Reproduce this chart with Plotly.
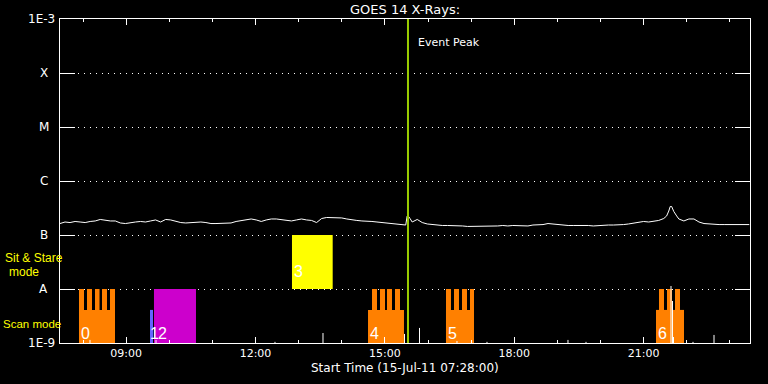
import plotly.graph_objects as go
import numpy as np

# ---------------- data ----------------
start_hour = 7 + 28 / 60.0          # 07:28
end_hour = 23 + 28 / 60.0           # 23:28

# GOES 14 long channel flux (minutes after 07:28, flux in 1e-7 W/m^2)
goes_minutes = [0, 7, 14, 21, 28, 35, 42, 49, 56, 63, 70, 77, 84, 91, 98, 105, 112, 119, 126, 133,
                140, 147, 154, 161, 168, 175, 182, 189, 196, 203, 210, 217, 224, 231, 238, 245, 252,
                259, 266, 273, 280, 287, 294, 301, 308, 315, 322, 329, 336, 343, 350, 357, 364, 371,
                378, 385, 392, 399, 406, 413, 420, 427, 434, 441, 448, 455, 462, 469, 476, 481, 483,
                485, 487, 490, 497, 504, 511, 518, 525, 532, 539, 546, 553, 560, 567, 574, 581, 588,
                595, 602, 609, 616, 623, 630, 637, 644, 651, 658, 665, 672, 679, 686, 693, 700, 707,
                714, 721, 728, 735, 742, 749, 756, 763, 770, 777, 784, 791, 798, 805, 812, 819, 826,
                833, 840, 844, 847, 849, 851, 854, 858, 861, 868, 875, 882, 889, 896, 903, 910, 917,
                924, 931, 938, 945, 952, 959]
goes_flux_e7 = [1.63, 1.74, 1.70, 1.78, 1.74, 1.70, 1.78, 1.82, 1.94, 1.86, 1.82, 1.82, 1.67, 1.63,
                1.70, 1.74, 1.78, 1.74, 1.82, 1.90, 1.74, 1.94, 1.90, 1.78, 1.70, 1.67, 1.70, 1.70,
                1.74, 1.70, 1.63, 1.63, 1.63, 1.63, 1.67, 1.78, 1.86, 1.94, 1.98, 1.90, 1.78, 1.90,
                1.98, 1.98, 1.94, 1.90, 1.82, 1.90, 1.98, 1.90, 1.86, 1.70, 2.02, 2.11, 2.11, 2.07,
                2.07, 1.98, 1.90, 1.86, 1.82, 1.82, 1.78, 1.74, 1.70, 1.67, 1.60, 1.56, 1.53, 1.53,
                2.25, 2.20, 2.02, 1.74, 1.94, 1.70, 1.60, 1.56, 1.53, 1.50, 1.50, 1.50, 1.47, 1.47,
                1.44, 1.44, 1.47, 1.47, 1.47, 1.44, 1.47, 1.50, 1.47, 1.50, 1.50, 1.47, 1.47, 1.53,
                1.53, 1.56, 1.63, 1.60, 1.53, 1.53, 1.50, 1.50, 1.50, 1.53, 1.50, 1.47, 1.50, 1.50,
                1.53, 1.53, 1.53, 1.56, 1.60, 1.67, 1.70, 1.78, 1.74, 1.78, 1.86, 2.02, 2.25, 2.78,
                3.37, 3.37, 2.72, 2.25, 1.98, 1.82, 1.98, 1.98, 1.74, 1.63, 1.60, 1.56, 1.56, 1.56,
                1.56, 1.60, 1.56, 1.60, 1.56]

# small spikes of the low channel (hour, peak flux)
spike_hours = [8.162, 9.693, 12.452, 13.565, 15.455, 15.803, 16.672, 17.368, 19.246, 19.664,
               21.635, 21.670, 21.693, 22.145, 22.632]
spike_peaks = [1.14e-9, 1.14e-9, 1.05e-9, 1.53e-9, 1.47e-9, 1.90e-9, 1.09e-9, 1.05e-9, 1.14e-9,
               1.05e-9, 1.137e-8, 6.0e-9, 1.29e-9, 1.05e-9, 1.41e-9]

# scan-mode observations (orange): full block + raster teeth
scan_labels = ["0", "4", "5", "6"]
scan_start = [7.907, 14.609, 16.417, 21.287]
scan_end = [8.742, 15.443, 17.067, 21.936]
scan_teeth = [
    [(7.907, 8.023), (8.093, 8.209), (8.278, 8.383), (8.441, 8.557), (8.626, 8.742)],
    [(14.702, 14.817), (14.887, 15.003), (15.049, 15.165), (15.235, 15.351)],
    [(16.417, 16.533), (16.603, 16.719), (16.788, 16.904), (16.974, 17.067)],
    [(21.357, 21.472), (21.542, 21.658), (21.728, 21.843)],
]
scan_low_top = 4.1e-9
band_floor = 1e-9
band_scan_top = 1e-8
band_stare_top = 1e-7

# other observations
obs1_range = (9.554, 9.623)      # blue, label "1"
obs2_range = (9.646, 10.620)     # magenta, label "2"
obs3_range = (12.846, 13.790)    # yellow sit & stare, label "3"

event_peak_hour = 15.536

x_tickvals = [9, 12, 15, 18, 21]
x_ticktext = ["09:00", "12:00", "15:00", "18:00", "21:00"]
y_tickvals = [1e-9, 1e-8, 1e-7, 1e-6, 1e-5, 1e-4, 1e-3]
y_ticktext = ["1E-9", "A", "B", "C", "M", "X", "1E-3"]

ORANGE = "#ff8000"
MAGENTA = "#cc00cc"
YELLOW = "#ffff00"
BLUE = "#6464ff"
PEAK = "#99cc00"

# ---------------- figure ----------------
fig = go.Figure()


def rect(x0, x1, y0, y1, color):
    fig.add_trace(go.Scatter(x=[x0, x1, x1, x0, x0], y=[y0, y0, y1, y1, y0],
                             mode="lines", fill="toself", fillcolor=color,
                             line=dict(width=0, color=color), hoverinfo="skip",
                             showlegend=False))


for s, e, teeth in zip(scan_start, scan_end, scan_teeth):
    rect(s, e, band_floor, scan_low_top, ORANGE)
    for t0, t1 in teeth:
        rect(t0, t1, band_floor, band_scan_top, ORANGE)

rect(obs1_range[0], obs1_range[1], band_floor, scan_low_top, BLUE)
rect(obs2_range[0], obs2_range[1], band_floor, band_scan_top, MAGENTA)
rect(obs3_range[0], obs3_range[1], band_scan_top, band_stare_top, YELLOW)

goes_hours = [start_hour + m / 60.0 for m in goes_minutes]
goes_flux = [v * 1e-7 for v in goes_flux_e7]
fig.add_trace(go.Scatter(x=goes_hours, y=goes_flux, mode="lines",
                         line=dict(color="white", width=1), showlegend=False,
                         hoverinfo="skip"))

sx, sy = [], []
for h, p in zip(spike_hours, spike_peaks):
    sx += [h, h, None]
    sy += [5e-10, p, None]
fig.add_trace(go.Scatter(x=sx, y=sy, mode="lines", line=dict(color="white", width=1),
                         showlegend=False, hoverinfo="skip"))

fig.add_trace(go.Scatter(x=[event_peak_hour, event_peak_hour], y=[1e-9, 1e-3], mode="lines",
                         line=dict(color=PEAK, width=2), showlegend=False, hoverinfo="skip"))

FONT = "DejaVu Sans"
LAB = "Liberation Sans"
ann = []
# y labels
for v, t in zip(y_tickvals, y_ticktext):
    if t.startswith("1E"):
        ann.append(dict(x=-0.004, xref="paper", y=np.log10(v), yref="y", text=t,
                        xanchor="right", yanchor="middle", showarrow=False,
                        font=dict(color="white", size=12, family=FONT)))
    else:
        ann.append(dict(x=-0.0232, xref="paper", y=np.log10(v), yref="y", text=t,
                        xanchor="center", yanchor="middle", showarrow=False,
                        font=dict(color="white", size=12, family=FONT)))
# mode labels
ann.append(dict(x=-0.037, xref="paper", y=-7.43, yref="y", text="Sit &amp; Stare",
                xanchor="center", yanchor="middle", showarrow=False,
                font=dict(color=YELLOW, size=12, family=LAB)))
ann.append(dict(x=-0.052, xref="paper", y=-7.68, yref="y", text="mode",
                xanchor="center", yanchor="middle", showarrow=False,
                font=dict(color=YELLOW, size=12, family=LAB)))
ann.append(dict(x=-0.0855, xref="paper", y=-8.648, yref="y", text="Scan mode",
                xanchor="left", yanchor="middle", showarrow=False,
                font=dict(color=YELLOW, size=11.5, family=LAB)))
# block labels
digit_font = dict(color="white", size=16, family="Liberation Sans")
for lab, s in zip(scan_labels, scan_start):
    ann.append(dict(x=s, xref="x", y=-8.815, yref="y", text=lab, xanchor="left",
                    yanchor="middle", showarrow=False, xshift=0, font=digit_font))
ann.append(dict(x=obs1_range[0], xref="x", y=-8.815, yref="y", text="1", xanchor="left",
                yanchor="middle", showarrow=False, xshift=-2, font=digit_font))
ann.append(dict(x=obs2_range[0], xref="x", y=-8.815, yref="y", text="2", xanchor="left",
                yanchor="middle", showarrow=False, xshift=2, font=digit_font))
ann.append(dict(x=obs3_range[0], xref="x", y=-7.667, yref="y", text="3", xanchor="left",
                yanchor="middle", showarrow=False, xshift=0, font=digit_font))
# title / event / x title
ann.append(dict(x=0.5, xref="paper", y=1.028, yref="paper", text="GOES 14 X-Rays:",
                xanchor="center", yanchor="middle", showarrow=False,
                font=dict(color="white", size=13, family=FONT)))
ann.append(dict(x=event_peak_hour, xref="x", y=0.926, yref="paper", text="Event Peak",
                xanchor="left", yanchor="middle", showarrow=False, xshift=8,
                font=dict(color="white", size=11, family=FONT)))
ann.append(dict(x=0.5, xref="paper", y=-0.077, yref="paper",
                text="Start Time (15-Jul-11 07:28:00)",
                xanchor="center", yanchor="middle", showarrow=False,
                font=dict(color="white", size=12, family=FONT)))

fig.update_layout(
    width=768, height=384,
    margin=dict(l=60, r=18, t=19, b=41),
    paper_bgcolor="black", plot_bgcolor="black",
    showlegend=False,
    annotations=ann,
    xaxis=dict(range=[start_hour, end_hour], tickmode="array", tickvals=x_tickvals,
               ticktext=x_ticktext, ticks="inside", ticklen=6, tickcolor="white", tickwidth=1,
               showline=True, linecolor="white", linewidth=1, mirror="ticks",
               showgrid=False, zeroline=False,
               tickfont=dict(color="white", size=11, family=FONT),
               minor=dict(tickmode="linear", tick0=0, dtick=1, ticks="inside", ticklen=3,
                          tickcolor="white", showgrid=False)),
    yaxis=dict(type="log", range=[-9, -3], tickmode="array", tickvals=y_tickvals,
               ticks="inside", ticklen=15, tickcolor="white", tickwidth=1,
               showticklabels=False, showline=True, linecolor="white", linewidth=1,
               mirror="ticks", showgrid=True, gridcolor="white", gridwidth=1,
               griddash="1px,5px", zeroline=False),
)

fig.write_html("out.html", config={"displayModeBar": False},
               post_script="document.body.style.margin='0';document.body.style.overflow='hidden';")
